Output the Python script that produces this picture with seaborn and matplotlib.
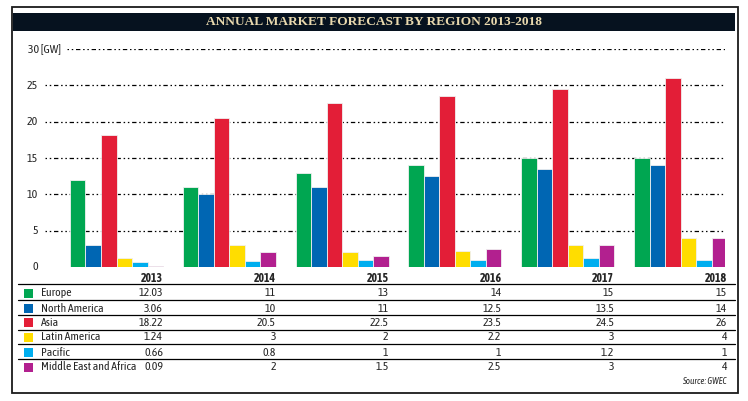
import pandas as pd
import matplotlib.pyplot as plt
import seaborn as sns
from matplotlib.patches import Rectangle
from matplotlib.lines import Line2D
from matplotlib import transforms

years = ["2013", "2014", "2015", "2016", "2017", "2018"]
regions = ["Europe", "North America", "Asia", "Latin America", "Pacific", "Middle East and Africa"]
europe = [12.03, 11, 13, 14, 15, 15]
north_america = [3.06, 10, 11, 12.5, 13.5, 14]
asia = [18.22, 20.5, 22.5, 23.5, 24.5, 26]
latin_america = [1.24, 3, 2, 2.2, 3, 4]
pacific = [0.66, 0.8, 1, 1, 1.2, 1]
mea = [0.09, 2, 1.5, 2.5, 3, 4]
yticks = [0, 5, 10, 15, 20, 25, 30]
colors = ["#00a651", "#0066b3", "#e31e37", "#ffdd00", "#00aeef", "#b2208f"]

series = [europe, north_america, asia, latin_america, pacific, mea]
df = pd.DataFrame([(y, r, s[i]) for r, s in zip(regions, series) for i, y in enumerate(years)],
                  columns=["year", "region", "value"])

sns.set_style("white")
plt.rcParams["font.family"] = ["Asap Condensed", "Archivo Narrow", "DejaVu Sans"]
fs = 8.5

W, H = 748, 401
fig = plt.figure(figsize=(W / 100, H / 100), dpi=100)

def px(x):
    return x / W

def py(y):
    return 1 - y / H

# plot area in pixel coords
left, right, top, bottom = 45, 725, 49, 267
ax = fig.add_axes([px(left), py(bottom), px(right - left), (bottom - top) / H])
sns.barplot(data=df, x="year", y="value", hue="region", hue_order=regions, order=years,
            palette=colors, saturation=1, width=0.825, ax=ax, legend=False,
            edgecolor="#f0f0f0", linewidth=0.6)
ax.set_xlim(-0.634, 5.394)
ax.set_ylim(0, 30)
ax.set_xticks([])
ax.set_yticks([])
ax.set_xlabel("")
ax.set_ylabel("")
for s in ax.spines.values():
    s.set_visible(False)
ax.patch.set_alpha(0)

# dotted gridlines
for t in yticks:
    if t == 0:
        continue
    start = (67 - left) / (right - left) if t == 30 else 0
    ax.axhline(t, xmin=start, xmax=1, color="black", lw=0.9,
               ls=(0, (1.2, 2.2, 1.2, 2.2, 3.5, 2.2)), zorder=0)

# y tick labels
for t in yticks:
    yy = bottom - (bottom - top) * t / 30
    if t == 30:
        fig.text(px(28), py(yy), "30 [GW]", ha="left", va="center", fontsize=fs)
    else:
        fig.text(px(38), py(yy), str(t), ha="right", va="center", fontsize=fs)

# outer frame and title bar
fig.add_artist(Rectangle((px(12), py(393)), px(726), (393 - 7) / H, transform=fig.transFigure,
                         fill=False, edgecolor="#1a1a1a", lw=1.3))
fig.add_artist(Rectangle((px(13), py(31)), px(722), 18 / H, transform=fig.transFigure,
                         facecolor="#06121f", edgecolor="none"))
fig.text(0.5, py(22), "ANNUAL MARKET FORECAST BY REGION 2013-2018", ha="center", va="center",
         fontsize=9.6, fontweight="bold", color="#e9d9ae",
         family=["Liberation Serif", "DejaVu Serif"])

# data table below the chart
tr = transforms.blended_transform_factory(ax.transData, fig.transFigure)
col_x = [i + 0.4125 for i in range(len(years))]
for x, y in zip(col_x, years):
    fig.text(x, py(278), y, transform=tr, ha="right", va="center", fontsize=fs, fontweight="bold")

line_ys = [284, 300, 315, 330, 344, 359]
for ly in line_ys:
    fig.add_artist(Line2D([px(18), px(735)], [py(ly), py(ly)], transform=fig.transFigure,
                          color="black", lw=0.9))

row_ys = [293, 308, 322, 337, 352, 367]
for r, s, c, ry in zip(regions, series, colors, row_ys):
    fig.add_artist(Rectangle((px(24), py(ry + 4.5)), px(9), 9 / H, transform=fig.transFigure,
                             facecolor=c, edgecolor="none"))
    fig.text(px(41), py(ry), r, ha="left", va="center", fontsize=fs)
    for x, v in zip(col_x, s):
        fig.text(x, py(ry), f"{v:g}", transform=tr, ha="right", va="center", fontsize=fs)

fig.text(px(727), py(381), "Source: GWEC", ha="right", va="center", fontsize=6.5, style="italic")

fig.savefig("out.png", dpi=100)
